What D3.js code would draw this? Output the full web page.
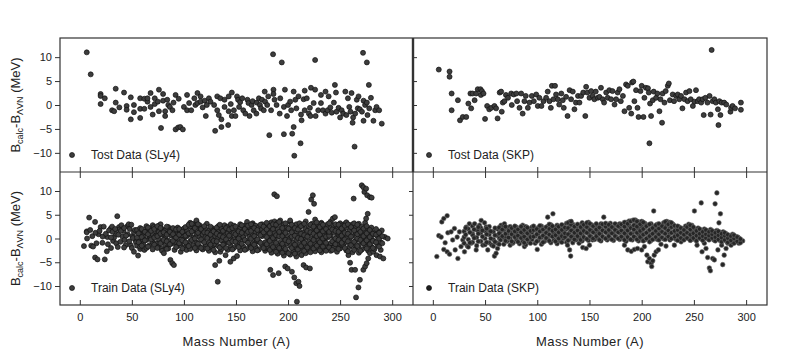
<!DOCTYPE html>
<html>
<head>
<meta charset="utf-8">
<script src="https://cdn.jsdelivr.net/npm/d3@7"></script>
<style>
body { margin: 0; background: #fff; }
svg { font-family: Arial, "Liberation Sans", sans-serif; }
</style>
</head>
<body>
<script>
// every row is [A, value, value, ...] (MeV)
let testSly4 = [
  [6.7, 11.0], [10.5, 6.4], [20, 2.3, 1.9, 0.2], [24, 1.4], [31, -1.1], [33, -1.3], [34.5, 3.4, 0.5], [38, -0.5],
  [42.5, 2.6], [45, -0.2, -1.0], [49, 1.6, -3.0], [52, 0, -1.5], [58, 1.4, -2.7, -0.8], [62, 1.3, -0.8], [65, 0.7, 1.4],
  [68, 2.5, -0.4], [70, -2.0], [72, 1.4, 0.2], [75, 0.7], [76, 3.2, -1.3], [78, -4.8], [80, 2.3, 0.9], [82, -1.3, -2.3],
  [84, 1.1], [85, 0], [86.5, -0.4], [89, -1.1], [90, 0.5], [92, 2.1, -5.1], [94.5, -4.7], [96.5, -4.6], [99, -5.1],
  [95, 1.3], [100, -0.4], [103, 2.1, -1.1], [105, 0.4], [107, -1.1], [110, 1.4], [111, 0], [113, 2.5, 0.4], [116, 1.8, 0.7],
  [118, -0.5], [120, 0.9], [121, -2.3], [122, 0], [124, 1.4], [125.5, 0.7], [129, 0], [130, -5.4], [132, 1.8, -1.1],
  [133.5, -2.1], [135, 1.4], [136, -3.0, -4.6], [139, 1.1, -0.4], [142.5, -4.2], [143, 1.8, -1.3], [145, 0.2], [146, 2.6, -2.3],
  [148, -1.1], [149.5, -2.3], [151, 1.8], [152, 1.1], [153, -0.4], [154, 0.6], [156, 1.4], [157, -1.1], [159, -1.8],
  [161, 1.1], [162, 0.4], [163, -2.3], [165, 0], [166, 0.8], [167, -1.1], [169.6, -1.8], [170, 0.5], [172, 1.4], [173, 0],
  [174, -0.7], [175, 1.1], [176.7, -1.1], [177.6, 2.8], [178, 0.7], [180, 0], [181, 1.8], [182, -6.3], [183.7, -1.1],
  [185.6, 10.6], [186, 3.2, 2.3], [187, 1.1], [189, 0], [192, -1.8], [192.5, 1.4], [194, 8.9], [196, -6.1, -0.4], [197, 3.2],
  [199, -2.3], [200, 0], [202, 0.7], [203, -1.1], [204, -6.0], [205.4, 2.8, -4.6], [206, -10.6], [207, 1.1], [208, -0.7],
  [210, 1.8], [212, -8.0], [212.5, -2.0], [213, -3.2], [215, 1.2], [216, 3.0, -1.1], [218, 1.4], [220, -1.8], [221, -0.6],
  [221.5, -2.3], [222, 3.6], [224.6, 0.4], [226, 9.4, 3.2], [226.5, -2.3], [229, -1.1], [231.6, 2.1, 0.4], [233.5, -1.1],
  [236, 2.8, -1.8], [238, -1.1], [239, 1.8], [240.6, -0.5], [242, -1.6], [244, 0.5], [245, 4.2], [246, 2.6], [246.5, -1.4],
  [248.5, -0.6], [250, -2.6], [251.5, -1.1], [253, -1.8], [255, 2.8], [256, -2.1], [257.5, 1.4], [258.8, -0.4], [260, -1.4],
  [261, 2.5], [262, -3.7], [262.5, -2.6], [263.9, -8.7], [264.5, -1.8], [266, 1.1], [267, -0.7], [267.7, 1.8], [269, -0.9],
  [271, -1.4], [272, 10.9], [272.5, -3.3, 0.9], [274, 0], [275.7, 8.9, 0.5], [276.3, -2.1], [277.6, 4.2], [278, -0.7],
  [279.6, 1.5], [282, -3.3], [283.7, -1.1], [285, -0.4], [287.5, -1.1], [290, -3.9]
]

let testSkp = [
  [5.7, 7.4], [16, 7.0, 5.9], [18, 2.4, -1.1], [24, 1.0], [26, -3.2], [28.7, -2.5], [32, -2.5], [34, 0.3], [36, 2.4],
  [36.7, -0.7], [38, 2.4], [40, 1.0], [41.5, 2.4], [43, 3.3], [45.6, 3.3], [46, 2.1], [47, 2.9], [48.5, 2.4], [50, -2.9],
  [52, -0.2], [54, -0.9], [56, -0.6], [59, -0.2], [60.6, -0.7], [62, -2.8], [64, 2.6], [65.4, 2.8], [66, -1.4], [67, 0.5],
  [68.6, 0.8], [70, 2.1], [72, 1.5], [75, 2.4], [75.6, 0], [77.5, 2.2], [80, 2.4], [80.7, 0.8], [83, -0.6], [84.6, 2.4],
  [86, -1.8], [87.7, 0.8], [89, 1.9], [91, -0.6], [92.5, 0.5], [94.8, 1.9], [96.7, 0.8], [99, 2.2], [100.5, -0.2], [102, 1.5],
  [104, -0.2], [106, 0.8], [108.5, 1.5], [110, 2.8], [111.7, 0.8], [113, -0.6], [114, 4.0], [115.5, 1.2], [117, 4.0],
  [118, 2.2], [119.7, 1.2], [121, 0.1], [123, 2.4], [124.4, 1.0], [125.4, -0.6], [127.6, 1.7], [129, -2.3], [131, 3.1],
  [132.4, 1.2], [134, 2.8], [135.6, -0.9], [137, 0.5], [139, 1.9], [140.4, 0.5], [142, 1.9], [144, 2.6], [146, -2.3],
  [146.8, 3.8], [148, 2.6], [150, 1.5], [151.6, 2.9], [153, 1.9], [154.7, 1.2], [156, 2.8], [158, 1.5], [159.5, 1.7],
  [161, 3.6], [162.7, 1.2], [164, 0.5], [166, 2.6], [167.5, 1.5], [169, 3.1], [170.7, 1.2], [172, 2.9], [174, 0.1],
  [175.5, 1.2], [177, 2.6], [178.7, 3.3], [180, 0.8], [182, 1.9], [183.5, -1.3], [185, 4.3], [186.7, 4.0], [188, -0.6],
  [190, -1.8], [190.8, 4.7], [192, 4.9], [193, 0.8], [194.6, 3.1], [196, -0.6], [197, -2.5], [198.8, 2.9], [200, 4.0],
  [201.7, -2.5], [202.6, 1.5], [204, 3.6], [206, 3.5], [206.8, 2.6], [207.4, -8.0], [208, 0.3], [209, -2.3], [210.6, 1.0],
  [211.5, 2.8], [213.8, 1.5], [215, 2.4], [217, -1.3], [218, 1.2], [219.5, -3.7], [220, 2.4], [221.8, 0.5], [223, 2.9],
  [225, 4.0], [226, 4.5], [227, 1.0], [229.7, 2.2], [231, 0.8], [233, 1.9], [234.5, 2.2], [236, 1.2], [237.7, 1.9],
  [239, -0.7], [241, 1.2], [242.5, 2.6], [244, 0.8], [245.7, 2.9], [247, 1.2], [249, -0.2], [250.5, 0.7], [252, 3.1],
  [253.7, 0.8], [255, 1.2], [257, 0.5], [258.5, 1.2], [259.4, -2.1], [261, 1.5], [263, 0.5], [265, 1.9], [266, -2.0],
  [267, 11.5], [268, 0.8], [269.6, 1.2], [271, 0.5], [273, -0.9], [273.5, -4.2], [274.4, 0.8], [275.4, -2.1], [276.6, 0.5],
  [279, 0.5], [281, 0.1], [285, -1.4], [285.6, -0.6], [287, -0.2], [289.4, -0.7], [295, 0.5, -1.0]
]

let trainSly4 = [
  [4, -1.6], [6.7, 1.5, 1.3], [9, 4.4], [11, -1.5], [12.8, -1.7], [14.7, 3.5, -4.0], [17, -4.4], [18, 0.9], [20, 2.4],
  [21.7, -0.9], [24, -4.4], [26, -2.7], [26.5, 0.3], [29.7, 2.1], [31, 2.5], [32, -0.5], [33, 0.2], [34.5, 1.0], [35, -1.0],
  [36, 4.7], [37.7, 2.4], [38, 1.9], [39, -0.7], [40, 2.8], [41, 0.4], [42, 1.6], [43, -0.3], [44, -1.4], [45.7, 2.6],
  [46, 0.9], [47, 3.0], [48, 2.0], [49, -1.4], [50, -2.0], [50.4, 0.5], [52, -2.8, 1.3], [53.6, -0.3], [54, -0.8], [56, -3.6],
  [7, 0.0], [10, 1.8], [12, 0.5], [15, 1.2], [16, -1.0], [19, 1.6], [22, 0.4], [23, 2.5], [25, 1.0], [27, -1.2], [28, 1.7],
  [30, 0.2, -2.0], [31.5, 1.4], [34, 2.0], [36.5, -1.8], [37, 0.8], [39.5, 1.6], [42.5, -1.9, 2.2], [44.5, 0.6], [47.5, -0.6],
  [49.5, 2.9], [51, 0.1], [53, 1.8],
  [55, -1.5, 0.2, 1.8], [58, -2.2, -0.6, 1.0, 2.2, -1.7], [60.7, -0.3], [61, -1.2, 0.5, 1.6], [62, -2.4],
  [64, -2.0, -0.3, 1.2, 2.6], [65, 1.7], [67, -1.4, 0.4, 2.0], [68, 0.3], [70, -2.3, -0.8, 0.9, 2.8], [71, 2.4],
  [73, -1.0, 0.6, 2.2], [74.4, 1.4], [76, -1.8, -0.2, 1.4, 2.7], [77.6, 3.0], [78.5, -2.2], [79, -2.6, -0.7, 0.8, 2.0],
  [80.8, -3.1], [82, -1.5, 0.1, 1.7], [84, -1.9], [85, -2.1, -0.4, 1.1, 2.4], [87, -4.5], [88, -1.1, 0.6, 1.9], [88.8, -5.2],
  [90.4, -5.6], [91, -2.4, -0.9, 0.4, 1.6], [92, -0.7], [94, -1.6, 0.0, 1.3, 2.3], [95, 1.7], [97, -2.8, -1.0, 0.7, 1.8],
  [98, 0.7], [100, -1.9, -0.3, 1.2, 2.1], [102.5, -2.4], [103, -1.2, 0.5, 1.6], [106, -2.2, -0.6, 0.9, 2.5, 3.3],
  [109, -1.4, 0.2, 1.7, 3.0], [109.5, 2.8], [112, -2.5, -0.8, 1.0, 2.4, 3.5, 3.8], [115, -1.7, 0.3, 1.5, 2.8], [116, 1.7],
  [118, -2.3, -0.5, 0.8, 2.2], [119.7, -1.9], [121, -1.3, 0.4, 1.9], [122, 3.1], [124, -2.6, -0.9, 0.6, 1.6], [125, 0.3],
  [127, -1.8, -0.1, 1.3, 2.2], [128.7, -1.4], [130, -2.9, -1.2, 0.5, 1.8, -5.6], [132.5, -9.1], [133, -1.6, 0.2, 1.4, 2.6],
  [134, -4.7], [135, -2.8], [136, -2.2, -0.4, 0.9, 2.1], [136.7, 1.0], [139, -1.0, 0.7, 1.8, 2.8], [140, -3.5], [141.4, 2.4],
  [142, -2.4, -0.7, 1.1, 2.5], [144.6, -4.9], [145, -1.5, 0.3, 1.6, 3.0], [147.8, -4.2], [148, -2.0, -0.2, 1.2, 2.7],
  [151, -1.2, 0.6, 2.0, -3.7], [154, -2.5, -0.9, 0.8, 2.3, 3.0], [157, -1.7, 0.1, 1.5, 2.6, 0.3], [160, -2.2, -0.5, 1.0, 2.9],
  [160.6, 3.5], [163, -1.3, 0.4, 1.8, 2.4], [164.4, -1.7], [166, -2.7, -1.0, 0.7, 2.2, 3.2], [167, 2.8],
  [169, -1.8, -0.1, 1.3, 2.7], [170, -0.7], [172, -2.3, -0.6, 1.0, 2.4], [174, 1.7], [175, -1.4, 0.5, 1.9, 3.0],
  [178, -2.6, -0.8, 0.8, 2.2, -2.1], [180, 3.1], [181, -1.9, 0.0, 1.5, 2.9], [183, -6.6], [184, -3.0, -1.3, 0.6, 2.3, 3.4],
  [185.6, -7.7], [186.8, 9.3], [187, -2.2, -0.4, 1.2, 2.6, 3.6], [189.3, 8.9], [190, -3.2, -1.5, 0.3, 1.9, 3.3], [191, -7.3],
  [192.5, 3.8], [193, -2.4, -0.7, 1.0, 2.8], [194.2, -1.4], [196, -3.6, -1.8, 0.2, 1.6, 3.0], [197.3, -5.9],
  [199, -2.8, -1.0, 0.7, 2.4], [199.6, -6.3], [202, -3.4, -1.6, 0.0, 1.8, 3.5, 3.8], [203.7, -7.0], [205, -2.6, -0.8, 1.1, 2.7],
  [206, -8.2], [207.9, -9.4], [208, -3.8, -2.0, -0.3, 1.5, 3.0], [208.5, -13.3], [210, -9.1], [211, -2.9, -1.2, 0.6, 2.3, 3.2, -10.0],
  [213, -3.5], [214, -2.0, -0.4, 1.3, 2.8], [214.9, -5.6], [217, -3.1, -1.5, 0.2, 2.0, 3.6], [217.4, -6.1], [219.7, 5.6],
  [220, -2.3, -0.7, 1.0, 2.6], [221, -6.3], [222.3, 8.2], [223, -1.6, 0.0, 1.6, 3.1], [223.8, 9.1], [225, 7.3],
  [226, -2.7, -1.1, 0.5, 2.2, 4.0, 2.1], [229, -2.0, -0.4, 1.2, 2.9, -0.3], [232, -2.9, -1.3, 0.3, 1.9, 3.3, 3.1],
  [235, -2.2, -0.6, 1.0, 2.5, 0.7], [238, -1.5, 0.2, 1.7, 3.0], [240.4, -1.4], [241, -2.6, -1.0, 0.6, 2.2, 3.6], [243, 4.2],
  [244, -1.9, -0.3, 1.3, 2.7], [245, 4.5], [247, -2.8, -1.2, 0.4, 2.0], [248.4, 1.0], [250, -2.1, -0.5, 1.1, 2.5, 3.2],
  [251.6, -1.4], [253, -1.4, 0.3, 1.8, 2.9], [254.8, 3.1], [256, -2.5, -0.8, 0.8, 2.3, 3.4], [258, -3.5],
  [259, -1.8, -0.1, 1.5, 2.8], [259.6, -5.1], [261, -6.6], [262, -2.9, -1.1, 0.6, 2.1, 3.0], [263, 8.4], [264.4, -6.6],
  [265, -2.0, -0.4, 1.2, 2.6], [265.3, -12.4], [267.6, -10.3], [268, -3.0, -1.4, 0.3, 1.9, 3.1], [269, -8.7], [270.8, 11.2],
  [271, -2.3, -0.6, 1.0, 2.5], [272.3, 10.8, -6.6], [273.3, 9.8], [274, -1.5, 0.2, 1.6, 3.3, -5.9], [275, 10.5, 4.2],
  [275.5, -5.2], [276, 9.1], [276.5, 5.2], [277, -2.6, -0.9, 0.7, 2.0, -4.2], [278.7, 8.7, -3.1], [280, -1.7, 0.0, 1.4, 2.3],
  [280.3, 8.6], [281.9, -2.8], [283, -2.2, -0.6, 0.9], [285, -3.5], [286, -1.3, 0.4, 1.5], [288.3, -3.8],
  [289, -2.4, -0.8, 0.6], [290, 1.7], [291.5, -4.2], [293, 0.3], [295.7, 0],
  [56.5, -0.8, 1.1], [59.5, 0.3, 2.0, -1.5], [62.5, -0.4, 1.4], [65.5, -1.7, 0.9, 2.3], [68.5, -0.2, 1.6], [71.5, -1.3, 0.2, 2.0],
  [74.5, -2.0, 0.5, 2.6], [77.5, -1.0, 1.0, 2.2], [80.5, -0.3, 1.3], [83.5, -2.2, -0.6, 0.8, 2.5], [86.5, -1.2, 1.4],
  [89.5, -0.5, 0.9, 2.2], [92.5, -1.8, 0.2, 1.9], [95.5, -1.0, 0.8, 2.0], [98.5, -2.1, -0.4, 1.4], [101.5, -0.8, 0.6, 2.4],
  [104.5, -1.6, 1.1, 2.9], [107.5, -0.3, 1.5, 3.1], [110.5, -2.0, 0.0, 2.2], [113.5, -1.1, 1.2, 3.0], [116.5, -2.0, -0.2, 2.0],
  [119.5, -0.8, 1.3, 2.6], [122.5, -2.1, 0.1, 1.2], [125.5, -1.3, 0.8, 2.5], [128.5, -2.4, -0.5, 1.5], [131.5, -0.6, 1.0, 2.3],
  [134.5, -1.9, 0.6, 2.9], [137.5, -1.3, 0.3, 1.6], [140.5, -2.0, -0.2, 2.2], [143.5, -0.9, 0.6, 1.9], [146.5, -2.3, -0.6, 2.2],
  [149.5, -0.7, 0.9, 2.5], [152.5, -1.8, 0.0, 1.5], [155.5, -1.1, 1.2, 2.8], [158.5, -2.4, -0.3, 2.0], [161.5, -0.9, 1.4, 2.7],
  [164.5, -2.0, 0.0, 1.6, 3.0], [167.5, -1.3, 0.5, 2.2], [170.5, -2.5, -0.2, 1.8], [173.5, -0.9, 0.7, 2.9], [176.5, -2.0, 1.3, 2.5],
  [179.5, -1.2, 0.3, 1.9, 3.3], [182.5, -2.4, -0.5, 1.1, 2.6], [185.5, -1.8, 0.1, 2.0, 3.0], [188.5, -2.8, -0.9, 0.7, 2.9],
  [191.5, -2.0, 0.5, 1.4, 3.5], [194.5, -3.0, -1.1, 0.5, 2.2], [197.5, -2.2, -0.3, 1.2, 3.2], [200.5, -3.1, -0.6, 2.1],
  [203.5, -2.0, 0.4, 1.3, 2.9], [206.5, -3.2, -1.3, 0.6, 2.2], [209.5, -2.3, 0.1, 1.9], [212.5, -1.6, -0.1, 1.0, 2.6],
  [215.5, -2.6, -0.9, 0.7, 3.1], [218.5, -1.9, 0.4, 1.6], [221.5, -2.9, -1.1, 1.3, 2.9], [224.5, -2.1, -0.3, 1.0, 2.5],
  [227.5, -1.5, 0.5, 1.7, 3.4], [230.5, -2.5, -0.8, 0.8, 2.4], [233.5, -1.7, 0.0, 1.5, 2.9], [236.5, -2.6, -0.9, 0.4, 2.0],
  [239.5, -1.9, 0.6, 1.4, 3.2], [242.5, -2.4, -0.6, 1.9], [245.5, -1.2, 0.0, 1.6, 3.0], [248.5, -2.2, -0.3, 1.4, 2.9],
  [251.5, -0.9, 0.6, 2.1], [254.5, -2.0, -0.2, 1.2, 2.7], [257.5, -2.7, -0.6, 1.0, 3.0], [260.5, -1.4, 0.4, 2.4],
  [263.5, -2.4, -0.7, 1.7, 3.2], [266.5, -1.6, 0.0, 0.9, 2.9], [269.5, -2.6, -0.3, 1.4], [272.5, -1.0, 0.5, 2.1],
  [275.5, -2.1, -0.4, 1.1, 2.6], [278.5, -1.2, 0.3, 1.8], [281.5, -2.0, -0.5, 1.0], [284.5, -0.8, 0.8, 2.0],
  [287.5, -1.7, 0.0, 1.2], [290.5, -1.0, 0.5]
]

let trainSkp = [
  [3.8, -3.8], [5.7, 0.6], [8, 0.3], [8.6, 3.5], [10.5, 4.2, -2.3], [11.8, -0.9], [13.7, 4.8, -2.8], [14.4, 1.2], [16, -3.3],
  [17.5, 1.4], [19, -0.3], [20.7, 2.1], [21.4, -2.4], [23.3, 0.3], [24, -4.2], [25.5, 1.4], [27, -1.7], [28.7, -0.3],
  [30, -1.0, 0.3, 1.5], [30.3, -2.8], [32, 2.4], [33, -1.6], [34, -1.8, -0.2, 2.0], [35, 3.1], [36.7, -1.0], [38, -0.8, 1.0, 2.6],
  [38.3, 0.7], [40, 3.1], [41.5, -2.4], [42, -1.5, 0.2, 1.8], [43, 1.7], [44.7, 2.8], [46, -0.6, 1.2, 2.2], [46.3, 3.8],
  [47.9, -1.4], [49.5, 3.3], [50, -1.3, 0.0, 1.6], [51, 2.4], [52.6, -2.4], [54, -0.9, 0.8, 2.5, 1.7], [56.5, -1.4],
  [58, -1.6, -0.2, 1.4], [59, -3.7], [60.6, -3.1], [62, -1.0, 0.6, 2.0, -2.1], [63.8, 0], [65, -0.3, 1.4, 2.6], [65.4, 2.8],
  [68, -1.2, 0.2, 1.8, 2.7], [68.6, 3.1], [70, 0.3], [71, -0.6, 1.0, 2.3], [74, -1.4, 0.0, 1.5, 2.5], [76.6, -1.0],
  [77, -0.8, 0.7, 2.0], [80, -0.2, 1.2, 2.4, 2.1], [83, -1.1, 0.4, 1.7], [86, -0.5, 1.0, 2.2, 2.8], [87.7, -1.7],
  [89, -1.3, 0.1, 1.5, 2.5], [92, -0.7, 0.8, 2.0], [95, -0.2, 1.3, 2.4], [98, -1.0, 0.5, 1.8], [100, -2.3],
  [101, -0.4, 1.0, 2.3], [104, -1.2, 0.2, 1.6, 2.6], [107, -0.6, 0.9, 2.1], [110, -0.1, 1.4, 2.5, 4.5], [113, -0.9, 0.6, 1.9, 2.9],
  [115, 5.2], [116, -0.3, 1.1, 2.3], [119, -1.1, 0.4, 1.7, 2.8], [120, 0.3], [122, -0.5, 1.0, 2.2], [125, 0.0, 1.5, 2.7],
  [128, -0.8, 0.6, 2.0, 3.2], [129, -1.4], [131, -0.2, 1.2, 2.5, 3.5, -2.4], [132, -3.7], [134, -0.9, 0.5, 1.8, 3.0],
  [137, -0.3, 1.0, 2.3], [140, 0.2, 1.6, 2.8, -1.0], [143, -0.5, 0.9, 2.1, 3.3], [143.6, -1.9], [146, 0.0, 1.4, 2.6],
  [146.8, -2.1], [149, -0.4, 1.0, 2.2, 3.4], [150, -1.4], [152, 0.3, 1.7, 2.9], [153, -0.3], [155, -0.2, 1.2, 2.4],
  [158, 0.1, 1.5, 2.7], [161, -0.5, 0.9, 2.1, 3.1], [163.7, 4.5], [164, 0.2, 1.6, 2.8], [167, -0.3, 1.1, 2.3],
  [170, 0.0, 1.4, 2.6, 3.2], [173, -0.4, 1.0, 2.2], [176, 0.3, 1.7, 2.9], [179, -0.2, 1.2, 2.4, 3.1], [182, 0.1, 1.5, 2.8],
  [183.5, -1.4], [185, -0.6, 0.8, 2.1, 3.4], [186.7, -2.4], [188, 0.0, 1.4, 2.7, 3.7], [190, -2.7], [191, -0.3, 1.1, 2.4, 3.8],
  [193, -2.3], [194, 0.2, 1.6, 3.0, 3.9], [196, -2.1], [197, -0.5, 0.9, 2.2, 3.5], [200, 0.0, 1.3, 2.6, 3.6, -2.4],
  [202.6, -1.7], [203, -0.3, 1.0, 2.3, 3.2], [205, -3.5], [205.8, -4.9], [206, 0.2, 1.5, 2.8], [207.4, -4.2],
  [209, -0.4, 0.8, 2.0, 3.1, -5.2], [209.6, -5.9], [210.6, -4.7], [211.5, 5.8], [212, 0.0, 1.3, 2.5, -3.5], [213.8, -2.8],
  [215, -0.2, 1.1, 2.3, 3.0], [216, -2.4], [218, 0.3, 1.6, 2.7], [218.5, -1.2], [221, -0.1, 1.2, 2.4, 3.3], [223.3, -1.6],
  [224, 0.2, 1.5, 2.8, 3.6], [227, -0.3, 1.0, 2.2, 3.4], [230, 0.1, 1.3, 2.5, 3.0], [231.3, -1.4], [233, -0.2, 0.9, 2.0],
  [236, 0.2, 1.4, 2.4], [237.7, -0.7], [239, -0.1, 1.0, 2.1], [242, 0.3, 1.5, 2.6], [245, 0.0, 1.1, 2.3, 3.0], [247, -0.3],
  [248, 0.3, 1.4, 2.8], [250.5, 5.8], [251, -0.2, 0.9, 2.0], [253, -1.4], [254, 0.2, 1.2, 2.2], [257, -0.1, 0.8, 1.7, 7.5],
  [257.8, -2.8], [260, 0.3, 1.2, 2.0, -1.0], [261.6, -2.1], [263, 0.0, 0.9, 1.6], [263.2, -4.0], [264.8, -6.2], [265.8, -6.8],
  [266, 0.2, 1.1, 1.9], [268, -4.2], [269, -0.3, 0.6, 1.5], [269.6, -4.5], [270.3, 7.3], [272, 0.0, 0.9, 1.7, 9.6],
  [273, -2.4], [274, 3.3], [275, -0.4, 0.5, 1.3], [275.4, 5.2], [276.6, -1.4], [277.6, -5.5], [278, -0.1, 0.8, 1.4],
  [279, -3.5], [280.8, -2.1], [281, -0.6, 0.3, 1.0], [282.4, -1.0], [284, -0.2, 0.6], [285.6, -1.4], [287, -0.8, 0.2, 0.9],
  [288.8, -0.3], [290, -0.5, 0.4], [292, 0.3], [293, -1.0, 0.1], [296.7, -0.5],
  [31.5, 0.8, 2.2], [35.5, -0.9, 1.3], [39.5, 0.1, 1.9], [43.5, -0.6, 1.0, 2.4], [47.5, 0.4, 1.7], [51.5, -0.8, 0.9, 2.1],
  [55.5, 0.0, 1.5], [59.5, -0.7, 0.7, 2.2], [63.5, -1.2, 1.1, 2.3], [66.5, 0.5, 1.9], [69.5, -0.5, 1.0, 2.5], [72.5, 0.2, 1.6],
  [75.5, -0.6, 0.9, 2.2], [78.5, 0.3, 1.5, 2.6], [81.5, -0.7, 0.6, 1.9], [84.5, 0.1, 1.3, 2.5], [87.5, -0.9, 0.4, 1.8],
  [90.5, -0.2, 1.1, 2.3], [93.5, -1.0, 0.3, 1.6], [96.5, 0.4, 1.8, 2.6], [99.5, -0.6, 0.9, 2.0], [102.5, 0.2, 1.5, 2.7],
  [105.5, -0.8, 0.6, 1.9], [108.5, 0.1, 1.2, 2.4], [111.5, -0.5, 0.8, 2.0, 3.0], [114.5, 0.4, 1.6, 2.6], [117.5, -0.6, 0.7, 1.9],
  [120.5, 0.0, 1.3, 2.5], [123.5, -0.8, 0.5, 1.8, 2.9], [126.5, 0.3, 1.1, 2.3], [129.5, -0.4, 0.9, 2.2, 3.3],
  [132.5, 0.4, 1.7, 2.9, 3.6], [135.5, -0.2, 1.2, 2.5], [138.5, 0.5, 1.7, 3.0], [141.5, -0.3, 1.1, 2.4], [144.5, 0.3, 1.6, 2.9],
  [147.5, -0.1, 1.2, 2.4, 3.3], [150.5, 0.5, 1.8, 3.1], [153.5, 0.0, 1.3, 2.6], [156.5, 0.5, 1.9, 3.1], [159.5, -0.3, 1.0, 2.3],
  [162.5, 0.4, 1.7, 3.0], [165.5, 0.0, 1.3, 2.5, 3.2], [168.5, 0.5, 1.8, 2.9], [171.5, -0.2, 1.1, 2.4], [174.5, 0.5, 1.8, 3.1],
  [177.5, 0.0, 1.3, 2.6], [180.5, 0.4, 1.7, 3.0], [183.5, -0.3, 1.1, 2.5, 3.4], [186.5, 0.3, 1.7, 3.1],
  [189.5, -0.2, 1.0, 2.2, 3.6], [192.5, 0.4, 1.9, 2.8, 3.9], [195.5, -0.2, 1.2, 2.5, 3.6], [198.5, 0.3, 1.6, 3.0],
  [201.5, -0.5, 0.8, 2.0, 3.4], [204.5, 0.0, 1.2, 2.6], [207.5, -0.7, 0.5, 1.8, 3.0], [210.5, -0.2, 1.0, 2.2],
  [213.5, 0.3, 1.6, 2.8], [216.5, -0.3, 0.9, 2.1, 3.1], [219.5, 0.2, 1.4, 2.6], [222.5, -0.2, 1.0, 2.2, 3.5],
  [225.5, 0.4, 1.7, 3.0], [228.5, 0.0, 1.2, 2.4, 3.3], [231.5, 0.4, 1.6, 2.7], [234.5, -0.4, 0.7, 1.8, 2.6],
  [237.5, 0.1, 1.2, 2.2], [240.5, -0.3, 0.8, 1.8], [243.5, 0.1, 1.2, 2.4], [246.5, -0.4, 0.8, 1.9, 2.8], [249.5, 0.1, 1.1, 2.4],
  [252.5, -0.5, 0.6, 1.6], [255.5, 0.1, 1.0, 2.0], [258.5, -0.4, 0.5, 1.4], [261.5, 0.1, 0.9, 1.8], [264.5, -0.3, 0.6, 1.4],
  [267.5, 0.1, 0.9, 1.6], [270.5, -0.5, 0.3, 1.2], [273.5, -0.2, 0.7, 1.5], [276.5, -0.7, 0.2, 1.0], [279.5, -0.3, 0.6, 1.2],
  [282.5, -0.8, 0.1, 0.8], [285.5, -0.4, 0.5], [288.5, -1.0, 0.0, 0.7], [291.5, -0.6, 0.3], [294.5, -0.9, -0.1]
]

let xTicks = [0, 50, 100, 150, 200, 250, 300]
let yTicks = [-10, -5, 0, 5, 10]
let legendLabels = ['Tost Data (SLy4)', 'Tost Data (SKP)', 'Train Data (SLy4)', 'Train Data (SKP)']

let cols = [[60, 413], [413, 767]]
let rows = [[38, 172], [172, 305]]

let panels = [
  {data: testSly4, r: 0, c: 0, label: legendLabels[0]},
  {data: testSkp, r: 0, c: 1, label: legendLabels[1]},
  {data: trainSly4, r: 1, c: 0, label: legendLabels[2]},
  {data: trainSkp, r: 1, c: 1, label: legendLabels[3], dense: true}
]

function unfold (list) {
  let pts = []
  list.forEach(function (row) {
    for (let i = 1; i < row.length; i++) pts.push([row[0], row[i]])
  })
  return pts
}

let svg = d3.select('body').append('svg').attr('width', 788).attr('height', 352)

panels.forEach(function (p) {
  let x = d3.scaleLinear().domain([-19, 320]).range(cols[p.c])
  let y = d3.scaleLinear().domain([-14, 14]).range([rows[p.r][1], rows[p.r][0]])
  let g = svg.append('g')

  // x ticks, pointing into the panel
  let xb = d3.axisBottom(x).tickValues(xTicks).tickSize(-5).tickPadding(8)
  if (p.r == 0) xb.tickFormat('')
  g.append('g').attr('transform', 'translate(0,' + rows[p.r][1] + ')').call(xb)
  if (p.r == 1) {
    g.append('g').attr('transform', 'translate(0,' + rows[p.r][0] + ')')
      .call(d3.axisTop(x).tickValues(xTicks).tickSize(-6).tickFormat(''))
  }

  let ya = d3.axisLeft(y).tickValues(yTicks)
  if (p.c == 0) ya.tickSize(5).tickPadding(3)
  else ya.tickSize(p.r == 0 ? -4 : 4).tickFormat('')
  g.append('g').attr('transform', 'translate(' + cols[p.c][0] + ',0)').call(ya)

  g.selectAll('.domain').remove()
  g.selectAll('.tick line').attr('stroke', '#333')
  g.selectAll('.tick text').attr('font-size', 11).attr('fill', '#222')

  g.append('g').selectAll('circle').data(unfold(p.data)).enter().append('circle')
    .attr('cx', function (d) { return x(d[0]) })
    .attr('cy', function (d) { return y(d[1]) })
    .attr('r', p.dense ? 2.3 : 2.5)
    .attr('fill', p.dense ? '#262626' : '#3d3d3d')
    .attr('stroke', p.dense ? '#6a6a6a' : '#111')
    .attr('stroke-width', p.dense ? 0.6 : 0.7)

  // legend
  let lx = cols[p.c][0] + (p.c == 0 ? 12 : 16)
  let ly = rows[p.r][1] - 17
  g.append('circle').attr('cx', lx).attr('cy', ly).attr('r', 2.5)
    .attr('fill', p.dense ? '#1e1e1e' : '#3d3d3d').attr('stroke', '#111').attr('stroke-width', 0.7)
  g.append('text').attr('x', lx + 19).attr('y', ly).attr('dy', '0.36em')
    .attr('font-size', 12).attr('fill', '#222').text(p.label)
})

// frame
let frame = svg.append('g').attr('stroke', '#333').attr('fill', 'none')
frame.append('rect').attr('x', 60).attr('y', 38).attr('width', 707).attr('height', 267).attr('stroke-width', 1.2)
frame.append('line').attr('x1', 60).attr('x2', 767).attr('y1', 172).attr('y2', 172).attr('stroke-width', 1.2)
frame.append('line').attr('x1', 413).attr('x2', 413).attr('y1', 38).attr('y2', 172).attr('stroke-width', 2.4)
frame.append('line').attr('x1', 413).attr('x2', 413).attr('y1', 172).attr('y2', 305).attr('stroke-width', 1.2)

// axis titles
cols.forEach(function (c) {
  svg.append('text').attr('x', (c[0] + c[1]) / 2).attr('y', 346)
    .attr('text-anchor', 'middle').attr('font-size', 13).attr('letter-spacing', 0.4).attr('fill', '#222')
    .text('Mass Number (A)')
})

rows.forEach(function (r) {
  let t = svg.append('text')
    .attr('transform', 'translate(20,' + (r[0] + r[1]) / 2 + ') rotate(-90)')
    .attr('text-anchor', 'middle').attr('font-size', 13).attr('fill', '#222')
  t.append('tspan').text('B')
  t.append('tspan').attr('font-size', 9).attr('dy', 3).text('calc')
  t.append('tspan').attr('dy', -3).text('-B')
  t.append('tspan').attr('font-size', 9).attr('dy', 3).text('ΛVN')
  t.append('tspan').attr('dy', -3).text(' (MeV)')
})
</script>
</body>
</html>
